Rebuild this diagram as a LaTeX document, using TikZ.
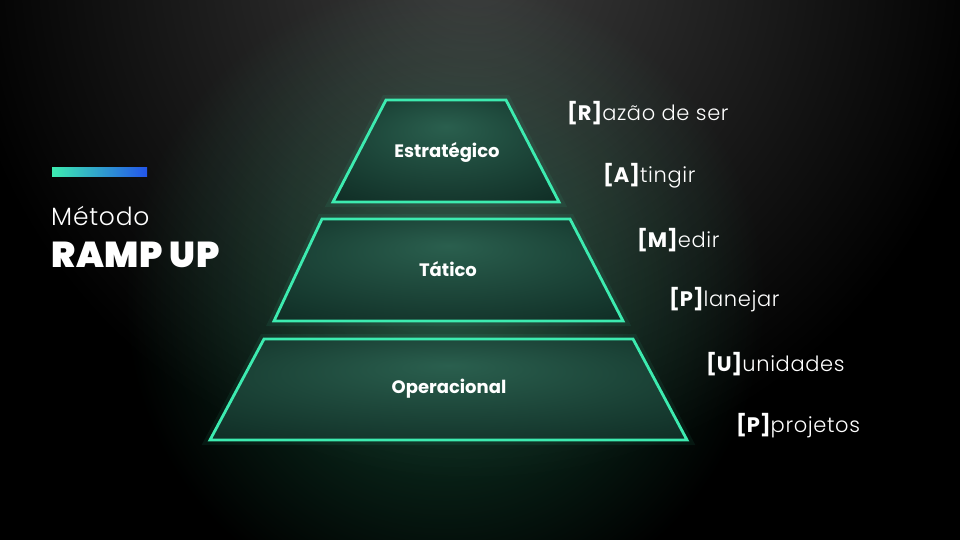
\documentclass[tikz,border=0pt]{standalone}
\usepackage{fontspec}
\setmainfont{Poppins}
\newfontfamily\poplight[LetterSpace=3]{Poppins Light}
\newfontfamily\popbold{Poppins Bold}
\newfontfamily\popblack[LetterSpace=2]{Poppins Black}
\usetikzlibrary{shapes.geometric, positioning}

\definecolor{mint}{HTML}{3DEBB0}
\definecolor{glowgreen}{HTML}{11442F}
\definecolor{glowgray}{HTML}{3C3C3C}
\definecolor{tierin}{HTML}{2A5F4E}
\definecolor{tierout}{HTML}{0F2C24}
\definecolor{barblue}{HTML}{2355EA}

\pgfdeclareradialshading{tierglow}{\pgfpoint{0bp}{12bp}}{color(0bp)=(tierin); color(38bp)=(tierout); color(50bp)=(tierout)}

\tikzset{
  tier/.style={draw=mint, line width=2.8pt, shading=tierglow,
    preaction={draw=mint, draw opacity=0.07, line width=10pt}},
  tierlabel/.style={text=white, inner sep=0pt, font=\popbold\fontsize{18}{22}\selectfont},
  letra/.style={anchor=west, inner sep=0pt, text=white,
    font=\poplight\fontsize{21}{25}\selectfont},
}
\newcommand{\chave}[1]{{\popbold[#1]}}

\begin{document}
\begin{tikzpicture}[x=1pt, y=-1pt]
        \useasboundingbox (0,0) rectangle (960,540);
        % Background
        \fill[black] (0,0) rectangle (960,540);
        \fill[inner color=glowgray, outer color=black] (475,-40) circle (520);
        \fill[inner color=glowgreen, outer color=black, blend mode=screen] (445,300) circle (320);

        % Pyramid
        \draw[tier] (386,100) -- (506,100) -- (559,202) -- (333,202) -- cycle;
        \draw[tier] (322,219) -- (570,219) -- (623,321) -- (274,321) -- cycle;
        \draw[tier] (264,339) -- (633,339) -- (687,440) -- (210,440) -- cycle;
        \node[tierlabel] (estrategico) at (447,152) {Estratégico};
        \node[tierlabel] (tatico) at (448,269) {Tático};
        \node[tierlabel] (operacional) at (449,389) {Operacional};

        % Title
        \shade[left color=mint, right color=barblue] (52,168) rectangle (147,177);
        \node[anchor=base west, inner sep=0pt, text=white, font=\poplight\fontsize{25}{30}\selectfont] (metodo) at (51,225) {Método};
        \node[anchor=base west, inner sep=0pt, text=white, font=\popblack\fontsize{36}{42}\selectfont] (ramp) at (51,267) {RAMP UP};

        % Letters
        \node[letra] (r) at (567,113) {\chave{R}azão de ser};
        \node[letra] (a) at (603,176) {\chave{A}tingir};
        \node[letra] (m) at (637,240) {\chave{M}edir};
        \node[letra] (p1) at (669,300) {\chave{P}lanejar};
        \node[letra] (u) at (706,364) {\chave{U}unidades};
        \node[letra] (p2) at (736,426) {\chave{P}projetos};
\end{tikzpicture}
\end{document}
